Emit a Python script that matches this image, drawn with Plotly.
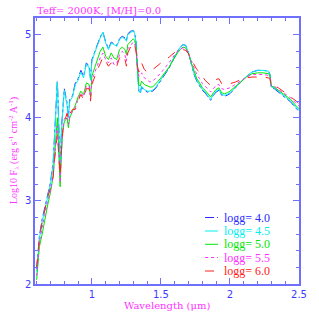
import plotly.graph_objects as go

wavelength = [0.60,0.62,0.64,0.66,0.68,0.70,0.72,
              0.73,0.74,0.75,0.76,0.77,0.78,0.79,0.80,
              0.82,0.83,0.84,
              0.86,0.88,0.90,0.92,0.94,0.96,0.98,
              0.99,1.00,
              1.02,1.04,1.06,1.08,1.10,1.12,1.14,1.16,1.18,1.20,1.22,1.24,
              1.25,
              1.26,1.28,1.30,
              1.31,1.32,1.33,1.34,1.35,1.36,
              1.38,1.40,1.42,1.44,1.46,1.48,1.50,1.52,1.54,1.56,
              1.58,1.60,1.62,1.64,1.66,1.68,1.70,1.72,1.74,1.76,
              1.78,1.80,1.82,1.84,1.86,1.88,1.90,1.92,1.94,1.96,
              1.98,2.00,
              2.04,2.08,2.12,2.16,2.20,2.24,2.28,2.29,2.30,2.32,2.36,2.40,2.44,2.48,2.50]

flux_logg40 = [2.18,2.58,2.78,2.92,3.08,3.22,3.48,
               3.78,4.08,4.45,3.92,3.38,3.88,4.12,4.35,
               4.18,4.02,4.22,
               4.27,4.42,4.47,4.57,4.50,4.66,4.62,
               4.47,4.70,
               4.79,4.89,4.97,5.03,4.91,4.83,4.91,4.89,4.87,4.95,4.98,4.96,
               4.93,
               5.01,5.04,5.05,
               5.02,4.91,4.54,4.32,4.29,4.37,
               4.33,4.31,4.31,4.32,4.35,4.40,4.45,4.49,4.54,4.60,
               4.67,4.74,4.80,4.85,4.88,4.87,4.78,4.65,4.52,4.44,
               4.38,4.33,4.30,4.26,4.21,4.27,4.31,4.33,4.27,4.26,
               4.27,4.29,
               4.36,4.43,4.50,4.55,4.57,4.57,4.56,4.52,4.36,4.35,4.30,4.24,4.19,4.11,4.08]

flux_logg45 = [2.15,2.55,2.75,2.90,3.05,3.20,3.45,
               3.75,4.05,4.43,3.90,3.35,3.85,4.10,4.33,
               4.15,4.00,4.20,
               4.25,4.40,4.45,4.55,4.48,4.65,4.60,
               4.45,4.68,
               4.78,4.88,4.96,5.03,4.90,4.82,4.90,4.88,4.86,4.94,4.97,4.95,
               4.92,
               5.00,5.03,5.05,
               5.01,4.90,4.55,4.33,4.30,4.38,
               4.34,4.32,4.32,4.33,4.36,4.41,4.46,4.50,4.55,4.61,
               4.68,4.74,4.80,4.85,4.88,4.87,4.78,4.65,4.53,4.45,
               4.39,4.34,4.31,4.27,4.22,4.28,4.32,4.34,4.28,4.27,
               4.28,4.30,
               4.37,4.44,4.50,4.55,4.57,4.57,4.56,4.52,4.37,4.36,4.31,4.25,4.20,4.12,4.09]

flux_logg50 = [2.05,2.45,2.60,2.80,2.95,3.10,3.30,
               3.55,3.80,4.00,3.60,3.17,3.60,3.85,3.95,
               4.00,3.88,4.00,
               4.08,4.15,4.25,4.32,4.28,4.42,4.40,
               4.25,4.50,
               4.60,4.70,4.80,4.85,4.74,4.70,4.78,4.72,4.70,4.82,4.85,4.82,
               4.76,
               4.88,4.92,4.95,
               4.93,4.85,4.60,4.40,4.38,4.44,
               4.40,4.38,4.37,4.37,4.40,4.44,4.48,4.52,4.56,4.61,
               4.67,4.73,4.78,4.82,4.85,4.84,4.77,4.66,4.55,4.47,
               4.42,4.36,4.33,4.29,4.25,4.30,4.34,4.36,4.30,4.29,
               4.30,4.32,
               4.38,4.44,4.49,4.53,4.54,4.54,4.53,4.50,4.38,4.37,4.32,4.27,4.22,4.14,4.11]

flux_logg55 = [2.10,2.50,2.68,2.85,3.00,3.12,3.30,
               3.52,3.75,3.90,3.58,3.22,3.62,3.88,3.98,
               4.05,3.92,4.02,
               4.08,4.12,4.22,4.30,4.25,4.38,4.38,
               4.22,4.45,
               4.55,4.63,4.72,4.78,4.70,4.66,4.72,4.64,4.65,4.76,4.80,4.75,
               4.68,
               4.83,4.87,4.91,
               4.89,4.80,4.58,4.50,4.50,4.54,
               4.48,4.45,4.43,4.44,4.47,4.50,4.54,4.58,4.62,4.66,
               4.71,4.76,4.80,4.83,4.84,4.83,4.77,4.68,4.59,4.52,
               4.47,4.41,4.38,4.34,4.31,4.35,4.39,4.40,4.35,4.34,
               4.35,4.36,
               4.40,4.45,4.49,4.52,4.52,4.52,4.51,4.48,4.38,4.38,4.33,4.28,4.24,4.17,4.14]

flux_logg60 = [2.20,2.55,2.75,2.90,3.05,3.15,3.30,
               3.50,3.70,3.80,3.55,3.30,3.62,3.85,3.95,
               4.05,3.98,4.05,
               4.10,4.10,4.20,4.28,4.22,4.35,4.35,
               4.20,4.40,
               4.50,4.58,4.65,4.73,4.68,4.62,4.66,4.60,4.62,4.72,4.76,4.70,
               4.62,
               4.78,4.85,4.90,
               4.87,4.80,4.62,4.55,4.62,4.66,
               4.58,4.55,4.55,4.58,4.61,4.64,4.66,4.68,4.70,4.73,
               4.76,4.79,4.81,4.82,4.82,4.81,4.77,4.70,4.63,4.58,
               4.55,4.50,4.45,4.42,4.39,4.42,4.46,4.47,4.41,4.40,
               4.40,4.41,
               4.43,4.46,4.48,4.49,4.49,4.49,4.48,4.46,4.38,4.39,4.35,4.30,4.26,4.20,4.17]

series_names = ["logg= 4.0", "logg= 4.5", "logg= 5.0", "logg= 5.5", "logg= 6.0"]
series_flux = [flux_logg40, flux_logg45, flux_logg50, flux_logg55, flux_logg60]
series_colors = ["#2a2aff", "#00f0f0", "#00e600", "#ff30ff", "#ff2020"]
series_dash = ["dashdot", "solid", "solid", "dot", "dash"]

for f in series_flux:
    assert len(f) == len(wavelength), len(f)

x_tickvals = [1, 1.5, 2, 2.5]
x_ticktext = ["1", "1.5", "2", "2.5"]
y_tickvals = [2, 3, 4, 5]
y_ticktext = ["2", "3", "4", "5"]

axis_color = "#7070ff"
label_color = "#ff33ff"
tick_font = dict(family="DejaVu Sans", size=10, color="#3c3cff")

fig = go.Figure()
for name, f, c, d in zip(series_names, series_flux, series_colors, series_dash):
    fig.add_trace(go.Scatter(x=wavelength, y=f, mode="lines", name=name,
                             line=dict(color=c, width=1, dash=d), showlegend=False,
                             hoverinfo="skip"))

L, R, T, B = 35, 17, 18, 35
W = H = 319
pw = W - L - R
ph = H - T - B

def px(xp):
    return (xp - L) / pw

def py(yp):
    return (H - B - yp) / ph

shapes = []
annotations = []
rows = [217.5, 231, 244.3, 257.5, 271]
for name, c, d, yr in zip(series_names, series_colors, series_dash, rows):
    shapes.append(dict(type="line", xref="paper", yref="paper",
                       x0=px(207), x1=px(220), y0=py(yr), y1=py(yr),
                       line=dict(color=c, width=1, dash=d)))
    annotations.append(dict(xref="paper", yref="paper", x=px(224), y=py(yr),
                            xanchor="left", yanchor="middle", showarrow=False,
                            text=name, font=dict(family="Liberation Serif", size=12, color=c)))

annotations.append(dict(xref="paper", yref="paper", x=0, y=1, yshift=0,
                        xanchor="left", yanchor="bottom", showarrow=False,
                        text="Teff= 2000K, [M/H]=0.0",
                        font=dict(family="DejaVu Serif", size=10, color=label_color)))
annotations.append(dict(xref="paper", yref="paper", x=0.5, y=0, yshift=-21,
                        xanchor="center", yanchor="middle", showarrow=False,
                        text="Wavelength (\u03bcm)",
                        font=dict(family="DejaVu Serif", size=10, color=label_color)))
annotations.append(dict(xref="paper", yref="paper", x=0, xshift=-21, y=0.5,
                        xanchor="center", yanchor="middle", showarrow=False, textangle=-90,
                        text="Log10 F<sub>\u03bb</sub> (erg s<sup>-1</sup> cm<sup>-2</sup> A<sup>-1</sup>)",
                        font=dict(family="Liberation Serif", size=10, color=label_color)))

fig.update_layout(
    width=W, height=H,
    margin=dict(l=L, r=R, t=T, b=B),
    paper_bgcolor="white", plot_bgcolor="white",
    shapes=shapes, annotations=annotations,
    showlegend=False, hovermode=False,
)
fig.update_xaxes(range=[0.588, 2.5], showgrid=False, zeroline=False,
                 showline=True, linecolor=axis_color, linewidth=1.5, mirror="ticks",
                 ticks="inside", ticklen=6, tickwidth=1, tickcolor=axis_color,
                 tickvals=x_tickvals, ticktext=x_ticktext, tickfont=tick_font,
                 minor=dict(dtick=0.1, tick0=0, ticks="inside", ticklen=3, tickcolor=axis_color))
fig.update_yaxes(range=[2, 5.2], showgrid=False, zeroline=False,
                 showline=True, linecolor=axis_color, linewidth=1.5, mirror="ticks",
                 ticks="inside", ticklen=6, tickwidth=1, tickcolor=axis_color,
                 tickvals=y_tickvals, ticktext=y_ticktext, tickfont=tick_font,
                 minor=dict(dtick=0.2, tick0=0, ticks="inside", ticklen=3, tickcolor=axis_color))

fig.write_html("out.html", config={"displayModeBar": False},
               post_script="document.body.style.margin='0';document.body.style.overflow='hidden';")
